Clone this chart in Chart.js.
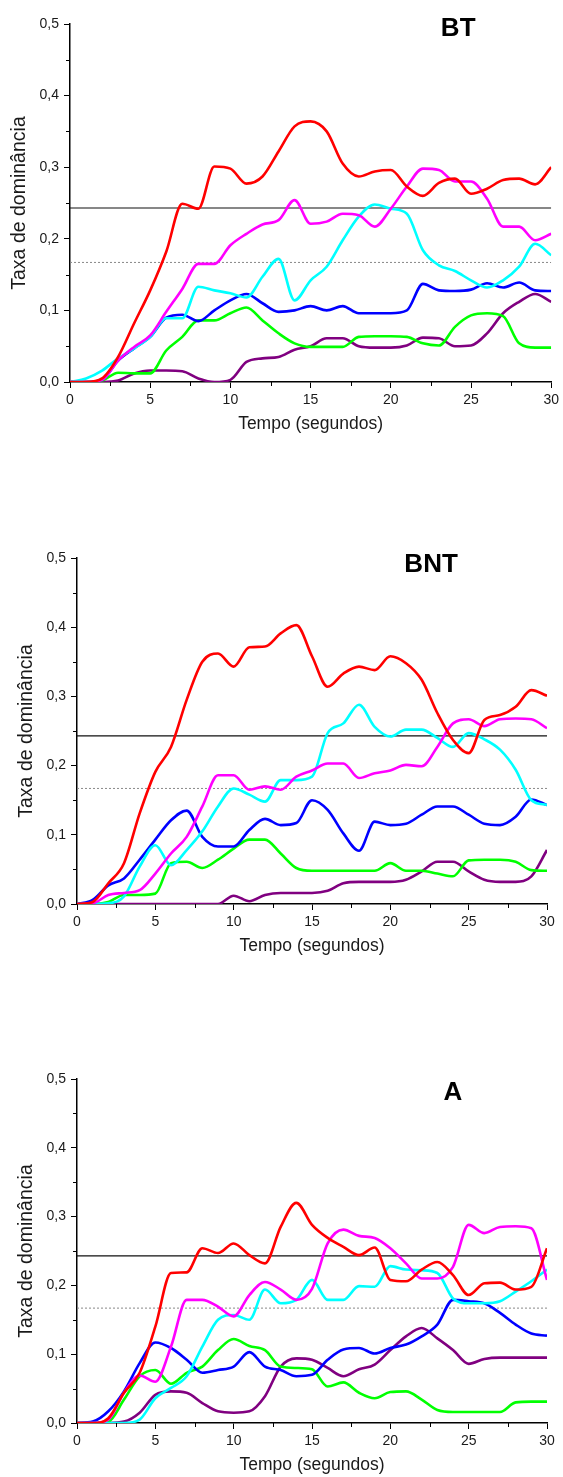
<!DOCTYPE html>
<html>
<head>
<meta charset="utf-8">
<script src="https://cdn.jsdelivr.net/npm/chart.js@4/dist/chart.umd.min.js"></script>
<style>
body { margin: 0; width: 563px; height: 1477px; position: relative; background: #fff; }
canvas { position: absolute; left: 0; }
</style>
</head>
<body>
<canvas id="chartBT" width="563" height="440" style="top:0px"></canvas>
<canvas id="chartBNT" width="563" height="440" style="top:520px"></canvas>
<canvas id="chartA" width="563" height="440" style="top:1037px"></canvas>
<script>
// tempo (s)
const time = [0, 1, 2, 3, 4, 5, 6, 7, 8, 9, 10, 11, 12, 13, 14, 15, 16, 17, 18, 19, 20, 21, 22, 23, 24, 25, 26, 27, 28, 29, 30];
const xTicks = [0, 5, 10, 15, 20, 25, 30];
const yTicks = [0, 0.1, 0.2, 0.3, 0.4, 0.5];
const upperLine = 0.243;
const lowerLine = 0.167;

// BT
const btRed = [0, 0, 0.005, 0.035, 0.082, 0.128, 0.182, 0.249, 0.242, 0.301, 0.298, 0.277, 0.287, 0.322, 0.357, 0.364, 0.35, 0.305, 0.287, 0.294, 0.296, 0.273, 0.26, 0.278, 0.284, 0.263, 0.27, 0.282, 0.284, 0.276, 0.3];
const btMagenta = [0, 0, 0.003, 0.03, 0.049, 0.065, 0.098, 0.13, 0.165, 0.165, 0.191, 0.207, 0.22, 0.226, 0.254, 0.221, 0.224, 0.235, 0.233, 0.217, 0.242, 0.273, 0.298, 0.296, 0.28, 0.28, 0.256, 0.217, 0.217, 0.198, 0.207];
const btCyan = [0, 0.005, 0.016, 0.033, 0.047, 0.063, 0.089, 0.089, 0.133, 0.128, 0.124, 0.118, 0.147, 0.172, 0.114, 0.142, 0.161, 0.198, 0.231, 0.248, 0.242, 0.235, 0.184, 0.163, 0.155, 0.142, 0.132, 0.142, 0.161, 0.193, 0.177];
const btBlue = [0, 0, 0.003, 0.03, 0.047, 0.063, 0.09, 0.094, 0.085, 0.1, 0.114, 0.123, 0.11, 0.098, 0.1, 0.106, 0.1, 0.106, 0.096, 0.096, 0.096, 0.1, 0.137, 0.128, 0.127, 0.129, 0.138, 0.132, 0.139, 0.128, 0.127];
const btGreen = [0, 0, 0.002, 0.013, 0.012, 0.012, 0.044, 0.063, 0.086, 0.086, 0.096, 0.104, 0.086, 0.068, 0.054, 0.049, 0.049, 0.049, 0.063, 0.064, 0.064, 0.063, 0.054, 0.051, 0.077, 0.093, 0.096, 0.092, 0.054, 0.048, 0.048];
const btPurple = [0, 0, 0, 0.002, 0.012, 0.016, 0.016, 0.015, 0.005, 0, 0.003, 0.028, 0.033, 0.035, 0.045, 0.05, 0.061, 0.061, 0.05, 0.048, 0.048, 0.051, 0.062, 0.061, 0.05, 0.051, 0.068, 0.096, 0.112, 0.123, 0.112];

// BNT
const bntRed = [0, 0.003, 0.03, 0.059, 0.131, 0.191, 0.227, 0.295, 0.35, 0.362, 0.343, 0.371, 0.372, 0.391, 0.403, 0.358, 0.314, 0.333, 0.343, 0.338, 0.358, 0.348, 0.324, 0.276, 0.237, 0.218, 0.266, 0.273, 0.285, 0.309, 0.301];
const bntMagenta = [0, 0.001, 0.013, 0.016, 0.02, 0.044, 0.073, 0.097, 0.141, 0.186, 0.186, 0.165, 0.17, 0.165, 0.184, 0.193, 0.203, 0.203, 0.182, 0.189, 0.193, 0.201, 0.199, 0.227, 0.261, 0.267, 0.257, 0.267, 0.268, 0.267, 0.254];
const bntCyan = [0, 0, 0.001, 0.011, 0.054, 0.085, 0.056, 0.078, 0.105, 0.141, 0.167, 0.158, 0.148, 0.179, 0.179, 0.184, 0.247, 0.261, 0.288, 0.256, 0.242, 0.252, 0.252, 0.24, 0.227, 0.247, 0.238, 0.223, 0.194, 0.15, 0.143];
const bntBlue = [0, 0.006, 0.027, 0.037, 0.064, 0.093, 0.121, 0.135, 0.097, 0.083, 0.083, 0.107, 0.123, 0.114, 0.117, 0.15, 0.136, 0.102, 0.077, 0.119, 0.114, 0.116, 0.129, 0.141, 0.141, 0.129, 0.116, 0.114, 0.126, 0.151, 0.143];
const bntGreen = [0, 0, 0.003, 0.013, 0.013, 0.015, 0.059, 0.061, 0.052, 0.064, 0.08, 0.093, 0.093, 0.073, 0.052, 0.048, 0.048, 0.048, 0.048, 0.048, 0.059, 0.048, 0.048, 0.044, 0.04, 0.063, 0.064, 0.064, 0.061, 0.049, 0.048];
const bntPurple = [0, 0, 0, 0, 0, 0, 0, 0, 0, 0, 0.012, 0.004, 0.013, 0.016, 0.016, 0.016, 0.019, 0.03, 0.032, 0.032, 0.032, 0.035, 0.047, 0.061, 0.061, 0.047, 0.035, 0.032, 0.032, 0.04, 0.078];

// A
const aRed = [0, 0, 0.007, 0.044, 0.073, 0.14, 0.218, 0.219, 0.254, 0.247, 0.261, 0.244, 0.232, 0.285, 0.32, 0.288, 0.269, 0.256, 0.244, 0.255, 0.208, 0.206, 0.223, 0.234, 0.215, 0.186, 0.203, 0.204, 0.194, 0.198, 0.254];
const aMagenta = [0, 0, 0.005, 0.044, 0.069, 0.06, 0.111, 0.179, 0.179, 0.169, 0.155, 0.186, 0.205, 0.194, 0.179, 0.195, 0.261, 0.281, 0.272, 0.269, 0.254, 0.232, 0.21, 0.21, 0.227, 0.288, 0.276, 0.285, 0.286, 0.283, 0.208];
const aCyan = [0, 0, 0, 0, 0.005, 0.036, 0.051, 0.068, 0.111, 0.15, 0.157, 0.15, 0.194, 0.174, 0.179, 0.208, 0.179, 0.179, 0.199, 0.198, 0.228, 0.223, 0.222, 0.218, 0.181, 0.174, 0.174, 0.177, 0.191, 0.206, 0.223];
const aBlue = [0, 0.002, 0.017, 0.046, 0.087, 0.117, 0.109, 0.092, 0.073, 0.077, 0.082, 0.103, 0.082, 0.077, 0.068, 0.07, 0.092, 0.107, 0.109, 0.101, 0.109, 0.114, 0.126, 0.143, 0.179, 0.177, 0.174, 0.16, 0.143, 0.13, 0.127];
const aGreen = [0, 0, 0.002, 0.034, 0.068, 0.077, 0.057, 0.073, 0.082, 0.106, 0.122, 0.112, 0.106, 0.082, 0.08, 0.078, 0.053, 0.059, 0.044, 0.036, 0.045, 0.046, 0.034, 0.019, 0.016, 0.016, 0.016, 0.016, 0.03, 0.031, 0.031];
const aPurple = [0, 0, 0, 0.002, 0.015, 0.041, 0.046, 0.044, 0.029, 0.017, 0.015, 0.017, 0.039, 0.082, 0.094, 0.092, 0.08, 0.068, 0.078, 0.085, 0.106, 0.126, 0.138, 0.123, 0.106, 0.086, 0.093, 0.095, 0.095, 0.095, 0.095];

const lineColors = ['#ff0000', '#ff00ff', '#00ffff', '#0000ff', '#00ff00', '#800080'];
const fontFamily = '"Liberation Sans", Arial, sans-serif';
Chart.defaults.font.family = fontFamily;
Chart.defaults.color = '#1a1a1a';

function toPoints(values) {
    return time.map(function (t, i) { return {x: t, y: values[i]}; });
}

function comma(v) {
    return v.toFixed(1).replace('.', ',');
}

// short minor ticks between the labelled ones
const minorTicks = {
    id: 'minorTicks',
    afterDraw: function (chart) {
        var ctx = chart.ctx, area = chart.chartArea, x = chart.scales.x, y = chart.scales.y;
        ctx.save();
        ctx.strokeStyle = '#000';
        ctx.lineWidth = 1;
        ctx.beginPath();
        for (var i = 0; i < xTicks.length - 1; i++) {
            var px = Math.round(x.getPixelForValue((xTicks[i] + xTicks[i + 1]) / 2)) + 0.5;
            ctx.moveTo(px, area.bottom);
            ctx.lineTo(px, area.bottom + 4);
        }
        for (var j = 0; j < yTicks.length - 1; j++) {
            var py = Math.round(y.getPixelForValue((yTicks[j] + yTicks[j + 1]) / 2)) + 0.5;
            ctx.moveTo(area.left, py);
            ctx.lineTo(area.left - 4, py);
        }
        ctx.stroke();
        ctx.restore();
    }
};

const panelLabel = {
    id: 'panelLabel',
    afterDraw: function (chart, args, opts) {
        var ctx = chart.ctx;
        ctx.save();
        ctx.font = 'bold 26px ' + fontFamily;
        ctx.fillStyle = '#000';
        ctx.textAlign = 'center';
        ctx.textBaseline = 'alphabetic';
        ctx.fillText(opts.text, chart.scales.x.getPixelForValue(opts.at), chart.chartArea.top + opts.dy);
        ctx.restore();
    }
};

function renderPanel(canvasId, label, series, layout) {
    var datasets = [];
    for (var i = 0; i < series.length; i++) {
        datasets.push({
            data: toPoints(series[i]),
            borderColor: lineColors[i],
            borderWidth: 2.6,
            pointRadius: 0,
            cubicInterpolationMode: 'monotone',
            fill: false
        });
    }
    datasets.push({
        data: [{x: time[0], y: upperLine}, {x: time[time.length - 1], y: upperLine}],
        borderColor: '#111',
        borderWidth: 1.2,
        pointRadius: 0
    });
    datasets.push({
        data: [{x: time[0], y: lowerLine}, {x: time[time.length - 1], y: lowerLine}],
        borderColor: '#888',
        borderWidth: 1,
        borderDash: [2, 2],
        pointRadius: 0
    });

    return new Chart(document.getElementById(canvasId), {
        type: 'line',
        data: {datasets: datasets},
        plugins: [minorTicks, panelLabel],
        options: {
            responsive: false,
            animation: false,
            layout: {padding: {top: layout.top, right: layout.right, left: 0, bottom: 0}},
            plugins: {
                legend: {display: false},
                tooltip: {enabled: false},
                panelLabel: {text: label, at: layout.labelAt, dy: layout.labelDy}
            },
            scales: {
                x: {
                    type: 'linear',
                    min: 0,
                    max: 30,
                    afterBuildTicks: function (axis) { axis.ticks = xTicks.map(function (v) { return {value: v}; }); },
                    afterFit: function (axis) { axis.height = layout.xHeight; },
                    grid: {drawOnChartArea: false, drawTicks: true, tickLength: 6, color: '#000'},
                    border: {display: true, color: '#000', width: 1.5},
                    ticks: {font: {size: 14}, padding: 4, maxRotation: 0, callback: function (v) { return v; }},
                    title: {display: true, text: 'Tempo (segundos)', font: {size: 17.5}, padding: {top: 0, bottom: layout.xTitlePad}}
                },
                y: {
                    type: 'linear',
                    min: 0,
                    max: 0.5,
                    afterBuildTicks: function (axis) { axis.ticks = yTicks.map(function (v) { return {value: v}; }); },
                    afterFit: function (axis) { axis.width = layout.left; },
                    grid: {drawOnChartArea: false, drawTicks: true, tickLength: 6, color: '#000'},
                    border: {display: true, color: '#000', width: 1.5},
                    ticks: {font: {size: 14}, padding: 5, callback: function (v) { return comma(v); }},
                    title: {display: true, text: 'Taxa de dominância', font: {size: 19.5}, padding: {top: layout.yTitlePad, bottom: 0}}
                }
            }
        }
    });
}

renderPanel('chartBT', 'BT', [btRed, btMagenta, btCyan, btBlue, btGreen, btPurple],
    {left: 70, top: 24, right: 11, xHeight: 58, xTitlePad: 5, yTitlePad: 8, labelAt: 24.2, labelDy: 12});
renderPanel('chartBNT', 'BNT', [bntRed, bntMagenta, bntCyan, bntBlue, bntGreen, bntPurple],
    {left: 77, top: 38, right: 16, xHeight: 56, xTitlePad: 3, yTitlePad: 15, labelAt: 22.6, labelDy: 14});
renderPanel('chartA', 'A', [aRed, aMagenta, aCyan, aBlue, aGreen, aPurple],
    {left: 77, top: 42, right: 16, xHeight: 54, xTitlePad: 1, yTitlePad: 15, labelAt: 24.0, labelDy: 21});
</script>
</body>
</html>
